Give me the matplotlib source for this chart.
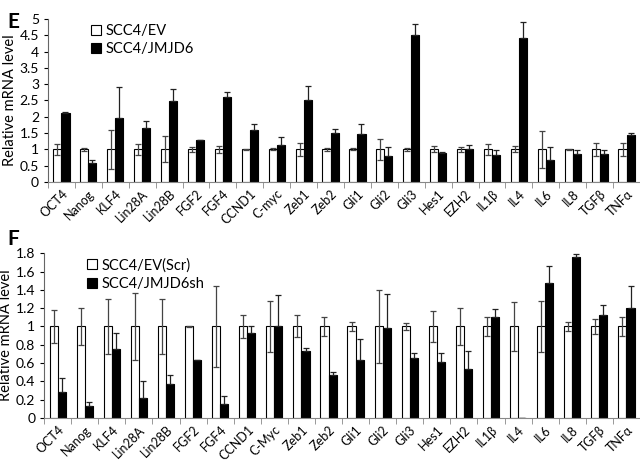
import numpy as np
import matplotlib.pyplot as plt
from matplotlib.ticker import MultipleLocator, FixedLocator, FuncFormatter

plt.rcParams['font.family'] = ['Lato', 'DejaVu Sans']

# panel E: overexpression
genes_e = ["OCT4", "Nanog", "KLF4", "Lin28A", "Lin28B", "FGF2", "FGF4", "CCND1", "C-myc",
           "Zeb1", "Zeb2", "Gli1", "Gli2", "Gli3", "Hes1", "EZH2", "IL1\u03b2", "IL4", "IL6",
           "IL8", "TGF\u03b2", "TNF\u03b1"]
ev_e = [1, 1, 1, 1, 1, 1, 1, 1, 1, 1, 1, 1, 1, 1, 1, 1, 1, 1, 1, 1, 1, 1]
ev_e_err = [0.17, 0.04, 0.6, 0.18, 0.4, 0.07, 0.1, 0.01, 0.03, 0.2, 0.04, 0.03, 0.32, 0.05,
            0.09, 0.07, 0.16, 0.09, 0.57, 0.02, 0.2, 0.2]
jm_e = [2.13, 0.57, 1.95, 1.67, 2.47, 1.29, 2.6, 1.6, 1.15, 2.52, 1.5, 1.48, 0.8, 4.52,
        0.9, 1.0, 0.84, 4.42, 0.69, 0.86, 0.86, 1.43]
jm_e_err = [0.02, 0.1, 0.96, 0.2, 0.37, 0.01, 0.15, 0.17, 0.22, 0.42, 0.14, 0.3, 0.26, 0.34,
            0.01, 0.14, 0.13, 0.5, 0.37, 0.11, 0.12, 0.07]

# panel F: knockdown
genes_f = ["OCT4", "Nanog", "KLF4", "Lin28A", "Lin28B", "FGF2", "FGF4", "CCND1", "C-Myc",
           "Zeb1", "Zeb2", "Gli1", "Gli2", "Gli3", "Hes1", "EZH2", "IL1\u03b2", "IL4", "IL6",
           "IL8", "TGF\u03b2", "TNF\u03b1"]
ev_f = [1, 1, 1, 1, 1, 1, 1, 1, 1, 1, 1, 1, 1, 1, 1, 1, 1, 1, 1, 1, 1, 1]
ev_f_err = [0.18, 0.2, 0.3, 0.37, 0.3, 0.01, 0.44, 0.13, 0.28, 0.12, 0.1, 0.05, 0.4, 0.04,
            0.17, 0.2, 0.1, 0.27, 0.28, 0.05, 0.08, 0.1]
sh_f = [0.29, 0.13, 0.75, 0.22, 0.37, 0.63, 0.15, 0.93, 1.01, 0.73, 0.47, 0.63, 0.98, 0.66,
        0.61, 0.54, 1.1, 0.005, 1.47, 1.76, 1.13, 1.2]
sh_f_err = [0.15, 0.05, 0.18, 0.18, 0.1, 0.005, 0.09, 0.08, 0.33, 0.03, 0.03, 0.23, 0.37, 0.05,
            0.1, 0.19, 0.09, 0.0, 0.19, 0.03, 0.1, 0.24]

fig = plt.figure(figsize=(6.4, 4.62), dpi=100)
ax1 = fig.add_axes([0.075, 0.606, 0.925, 0.353])
ax2 = fig.add_axes([0.069, 0.095, 0.931, 0.357])


def panel(ax, genes, a, a_err, b, b_err, labels, ymax, ystep):
    x = np.arange(len(genes))
    w = 0.3
    ax.bar(x - w / 2, a, w, color="white", edgecolor="black", linewidth=0.8, label=labels[0],
           yerr=[a_err, a_err], error_kw=dict(ecolor="#444444", elinewidth=0.9, capsize=2.5, capthick=0.9))
    ax.bar(x + w / 2, b, w, color="black", edgecolor="black", linewidth=0.8, label=labels[1],
           yerr=[np.zeros(len(b)), b_err], error_kw=dict(ecolor="#222222", elinewidth=0.9, capsize=2.5, capthick=0.9))
    ax.set_xlim(-0.5, len(genes) - 0.5)
    ax.set_ylim(0, ymax)
    ax.yaxis.set_major_locator(MultipleLocator(ystep))
    ax.yaxis.set_major_formatter(FuncFormatter(lambda v, _: f"{v:g}"))
    ax.set_xticks(x)
    ax.set_xticklabels(genes, rotation=45, ha="right", rotation_mode="anchor", fontsize=9)
    ax.xaxis.set_minor_locator(FixedLocator(np.arange(-0.5, len(genes), 1)))
    ax.tick_params(axis="x", which="major", length=0, pad=4)
    ax.tick_params(axis="x", which="minor", length=4, color="#888888")
    ax.tick_params(axis="y", labelsize=10, length=3, width=0.8)
    ax.spines["top"].set_visible(False)
    ax.spines["right"].set_visible(False)
    ax.spines["bottom"].set_color("#888888")
    ax.spines["left"].set_color("#666666")
    ax.set_ylabel("Relative mRNA level", fontsize=10.5, labelpad=2)
    ax.legend(loc="upper left", bbox_to_anchor=(0.05, 1.05), frameon=False, fontsize=10.5,
              handlelength=0.7, handleheight=0.7, handletextpad=0.3, labelspacing=0.3)


panel(ax1, genes_e, ev_e, ev_e_err, jm_e, jm_e_err, ["SCC4/EV", "SCC4/JMJD6"], 5, 0.5)
panel(ax2, genes_f, ev_f, ev_f_err, sh_f, sh_f_err, ["SCC4/EV(Scr)", "SCC4/JMJD6sh"], 1.8, 0.2)

fig.text(0.012, 0.975, "E", fontsize=15, fontweight="bold", va="top")
fig.text(0.012, 0.505, "F", fontsize=15, fontweight="bold", va="top")

fig.savefig("out.png", dpi=100)
